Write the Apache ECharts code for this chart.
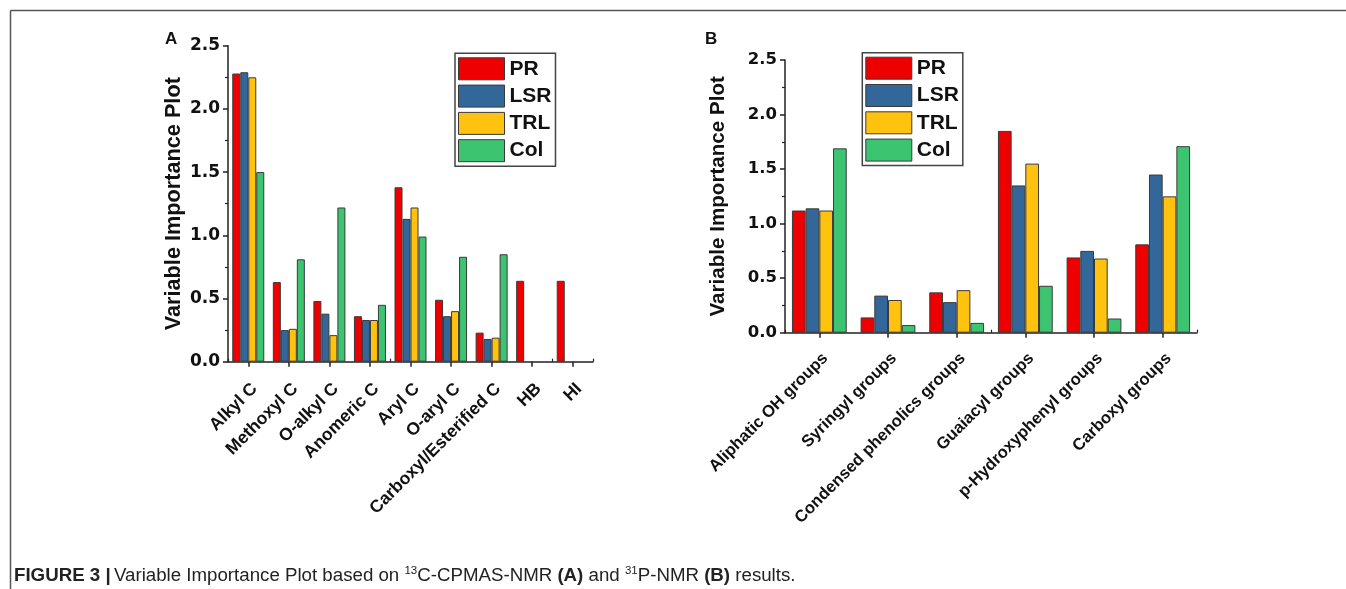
<!DOCTYPE html>
<html>
<head>
<meta charset="utf-8">
<title>Variable Importance Plot</title>
<script src="https://cdn.jsdelivr.net/npm/echarts@6/dist/echarts.min.js"></script>
<style>
  html, body { margin: 0; padding: 0; background: #ffffff; }
  #chart { width: 1346px; height: 589px; }
</style>
</head>
<body>
<div id="chart"></div>
<script>
// Panel A: 13C-CPMAS-NMR regions
const categoriesA = ['Alkyl C', 'Methoxyl C', 'O-alkyl C', 'Anomeric C', 'Aryl C', 'O-aryl C', 'Carboxyl/Esterified C', 'HB', 'HI'];
const prA  = [2.28, 0.63, 0.48, 0.36, 1.38, 0.49, 0.23, 0.64, 0.64];
const lsrA = [2.29, 0.25, 0.38, 0.33, 1.13, 0.36, 0.18, null, null];
const trlA = [2.25, 0.26, 0.21, 0.33, 1.22, 0.40, 0.19, null, null];
const colA = [1.50, 0.81, 1.22, 0.45, 0.99, 0.83, 0.85, null, null];

// Panel B: 31P-NMR groups
const categoriesB = ['Aliphatic OH groups', 'Syringyl groups', 'Condensed phenolics groups', 'Guaiacyl groups', 'p-Hydroxyphenyl groups', 'Carboxyl groups'];
const prB  = [1.12, 0.14, 0.37, 1.85, 0.69, 0.81];
const lsrB = [1.14, 0.34, 0.28, 1.35, 0.75, 1.45];
const trlB = [1.12, 0.30, 0.39, 1.55, 0.68, 1.25];
const colB = [1.69, 0.07, 0.09, 0.43, 0.13, 1.71];

const seriesNames = ['PR', 'LSR', 'TRL', 'Col'];
const seriesColors = ['#ee0000', '#336699', '#ffc20f', '#3cc470'];
const yTicks = { min: 0, max: 2.5, interval: 0.5 };

const sansBold = 'Liberation Sans, Arial, sans-serif';
const tickFont = 'DejaVu Sans, Verdana, sans-serif';
const ink = '#111111';

const chart = echarts.init(document.getElementById('chart'));

function valueAxis(gridIndex, nameGap, nameSize, labelSize) {
  return {
    type: 'value',
    gridIndex: gridIndex,
    min: yTicks.min,
    max: yTicks.max,
    interval: yTicks.interval,
    name: 'Variable Importance Plot',
    nameLocation: 'middle',
    nameGap: nameGap,
    nameTextStyle: { fontFamily: sansBold, fontWeight: 'bold', fontSize: nameSize, color: ink },
    axisLine: { show: true, lineStyle: { color: '#222', width: 1.5 } },
    axisTick: { show: true, length: 5, lineStyle: { color: '#222', width: 1.5 } },
    minorTick: { show: true, splitNumber: 2, length: 3, lineStyle: { color: '#222', width: 1.2 } },
    splitLine: { show: false },
    axisLabel: {
      margin: 8,
      fontFamily: tickFont, fontWeight: 'bold', fontSize: labelSize, color: ink,
      formatter: v => v.toFixed(1)
    }
  };
}

function categoryAxis(gridIndex, data, margin, fontSize) {
  return {
    type: 'category',
    gridIndex: gridIndex,
    data: data,
    axisLine: { show: true, onZero: false, lineStyle: { color: '#222', width: 1.5 } },
    axisTick: { show: true, alignWithLabel: true, length: 5, lineStyle: { color: '#222', width: 1.5 } },
    axisLabel: {
      interval: 0, rotate: 45, margin: margin,
      verticalAlign: 'top',
      fontFamily: sansBold, fontWeight: 'bold', fontSize: fontSize, color: ink
    }
  };
}

// Shorter ticks on the category boundaries
function boundaryTicks(gridIndex, data) {
  return {
    type: 'category',
    gridIndex: gridIndex,
    data: data,
    axisLine: { show: false },
    axisTick: { show: true, alignWithLabel: false, length: 3, lineStyle: { color: '#222', width: 1.2 } },
    axisLabel: { show: false },
    splitLine: { show: false }
  };
}

function barSeries(values, idx, xAxisIndex, yAxisIndex, width) {
  return {
    type: 'bar',
    name: seriesNames[idx],
    xAxisIndex: xAxisIndex,
    yAxisIndex: yAxisIndex,
    data: values,
    barWidth: width,
    barGap: '0%',
    itemStyle: { color: seriesColors[idx], borderColor: '#3a3a3a', borderWidth: 1 },
    emphasis: { disabled: true },
    animation: false
  };
}

function legendBox(left, top) {
  return {
    data: seriesNames,
    orient: 'vertical',
    left: left,
    top: top,
    icon: 'rect',
    itemWidth: 46,
    itemHeight: 22,
    itemGap: 4.3,
    padding: [4, 4, 4, 3],
    borderColor: '#444',
    borderWidth: 1.5,
    selectedMode: false,
    itemStyle: { borderColor: '#3a3a3a', borderWidth: 1 },
    textStyle: { fontFamily: sansBold, fontWeight: 'bold', fontSize: 21, color: ink, lineHeight: 22 }
  };
}

const captionFont = 'Liberation Sans, Arial, sans-serif';

const option = {
  backgroundColor: '#ffffff',
  animation: false,
  grid: [
    { left: 228, top: 45.7, width: 365, height: 316 },
    { left: 785, top: 60, width: 412, height: 272.7 }
  ],
  xAxis: [
    categoryAxis(0, categoriesA, 18, 17.5),
    categoryAxis(1, categoriesB, 17, 16.6),
    boundaryTicks(0, categoriesA),
    boundaryTicks(1, categoriesB)
  ],
  yAxis: [
    valueAxis(0, 43, 21.7, 17),
    valueAxis(1, 56, 20.6, 16.5)
  ],
  legend: [legendBox(455, 53.3), legendBox(862.3, 52.7)],
  series: [
    barSeries(prA, 0, 0, 0, 8),
    barSeries(lsrA, 1, 0, 0, 8),
    barSeries(trlA, 2, 0, 0, 8),
    barSeries(colA, 3, 0, 0, 8),
    barSeries(prB, 0, 1, 1, 13.7),
    barSeries(lsrB, 1, 1, 1, 13.7),
    barSeries(trlB, 2, 1, 1, 13.7),
    barSeries(colB, 3, 1, 1, 13.7)
  ],
  graphic: [
    // page frame
    { type: 'line', shape: { x1: 10.5, y1: 10.5, x2: 1346, y2: 10.5 }, style: { stroke: '#555', lineWidth: 1.5 }, silent: true },
    { type: 'line', shape: { x1: 10.5, y1: 10.5, x2: 10.5, y2: 589 }, style: { stroke: '#555', lineWidth: 1.5 }, silent: true },
    // panel letters
    { type: 'text', left: 165, top: 31, style: { text: 'A', fontFamily: sansBold, fontWeight: 'bold', fontSize: 17, fill: ink } },
    { type: 'text', left: 705, top: 31, style: { text: 'B', fontFamily: sansBold, fontWeight: 'bold', fontSize: 17, fill: ink } },
    // caption
    {
      type: 'text', left: 14, top: 565,
      style: {
        text: '{b|FIGURE 3 |} {n|Variable Importance Plot based on }{s|13}{n|C-CPMAS-NMR }{b|(A)}{n| and }{s|31}{n|P-NMR }{b|(B)}{n| results.}',
        rich: {
          b: { fontFamily: captionFont, fontWeight: 'bold', fontSize: 18.7, fill: '#222', verticalAlign: 'bottom', lineHeight: 20 },
          n: { fontFamily: captionFont, fontSize: 18.7, fill: '#222', verticalAlign: 'bottom', lineHeight: 20 },
          s: { fontFamily: captionFont, fontSize: 11.5, fill: '#222', verticalAlign: 'top', lineHeight: 20 }
        }
      }
    }
  ]
};

chart.setOption(option);
</script>
</body>
</html>
